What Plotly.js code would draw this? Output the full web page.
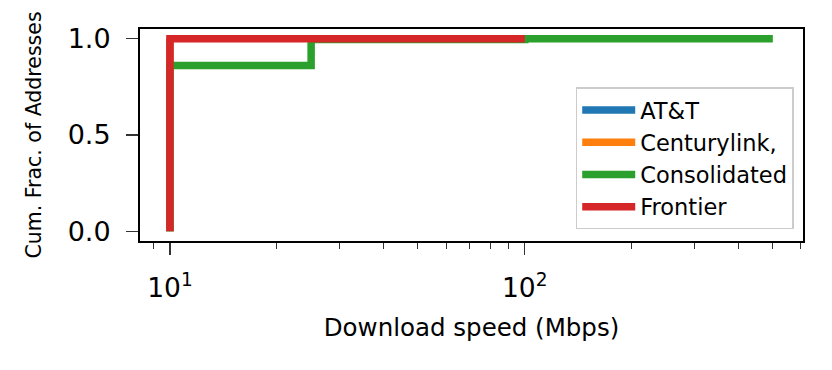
<!DOCTYPE html>
<html>
<head>
<meta charset="utf-8">
<script src="https://cdn.plot.ly/plotly-3.0.1.min.js"></script>
<style>html,body{margin:0;padding:0;background:#fff;}#chart{width:832px;height:370px;}</style>
</head>
<body>
<div id="chart"></div>
<script>
// Data
const seriesNames = ["AT&T", "Centurylink,", "Consolidated", "Frontier"];
const seriesColors = ["#1f77b4", "#ff7f0e", "#2ca02c", "#d62728"];
const attX = [10, 10];
const attY = [0, 1];
const centuryX = [10, 10];
const centuryY = [0, 1];
const consolidatedX = [10, 10, 25, 100, 500];
const consolidatedY = [0, 0.86, 0.995, 1.0, 1.0];
const frontierX = [10, 10, 100];
const frontierY = [0, 1, 1];
const yTickVals = [0, 0.5, 1];
const yTickText = ["0.0", "0.5", "1.0"];
const xTickVals = [10, 100];
const xTickText = ["10<sup>1</sup>", "10<sup>2</sup>"];

const xs = [attX, centuryX, consolidatedX, frontierX];
const ys = [attY, centuryY, consolidatedY, frontierY];

const traces = seriesNames.map((n, i) => ({
  type: "scatter", mode: "lines", name: n,
  x: xs[i], y: ys[i],
  line: {color: seriesColors[i], width: 7.5, shape: "hv"}
}));

// minor ticks for log axis
const minorVals = [];
for (let d = 1; d <= 100; d *= 10) {
  for (let k = 2; k <= 9; k++) minorVals.push(k * d);
}

const font = "DejaVu Sans, sans-serif";
const layout = {
  width: 832, height: 370,
  margin: {l: 140, r: 29, t: 29, b: 129, pad: 0},
  paper_bgcolor: "#fff", plot_bgcolor: "#fff",
  font: {family: font, color: "#000"},
  showlegend: true,
  legend: {
    x: 0.986, xanchor: "right", y: 0.055, yanchor: "bottom",
    bgcolor: "rgba(255,255,255,0.8)", bordercolor: "#cccccc", borderwidth: 1.5,
    font: {family: font, size: 22.5, color: "#000"},
    itemwidth: 53,
    tracegroupgap: 0
  },
  xaxis: {
    type: "log", range: [0.9157, 2.784],
    showgrid: false, zeroline: false,
    showline: true, linecolor: "#000", linewidth: 2, mirror: true,
    ticks: "outside", ticklen: 12, tickwidth: 1.3, tickcolor: "#333",
    ticklabelstandoff: 10,
    tickmode: "array", tickvals: xTickVals, ticktext: xTickText,
    tickfont: {family: font, size: 26.5, color: "#000"},
    minor: {tickmode: "array", tickvals: minorVals, ticks: "outside", ticklen: 6, tickwidth: 1, tickcolor: "#333", showgrid: false},
    title: {text: "Download speed (Mbps)", font: {family: font, size: 24.5, color: "#000"}, standoff: 17}
  },
  yaxis: {
    range: [-0.05, 1.05],
    showgrid: false, zeroline: false,
    showline: true, linecolor: "#000", linewidth: 2, mirror: true,
    ticks: "outside", ticklen: 12, tickwidth: 1.3, tickcolor: "#333",
    ticklabelstandoff: 10,
    tickmode: "array", tickvals: yTickVals, ticktext: yTickText,
    tickfont: {family: font, size: 27, color: "#000"},
    title: {text: "Cum. Frac. of Addresses", font: {family: font, size: 20.5, color: "#000"}, standoff: 20}
  }
};

Plotly.newPlot("chart", traces, layout, {staticPlot: true, displayModeBar: false});
</script>
</body>
</html>
